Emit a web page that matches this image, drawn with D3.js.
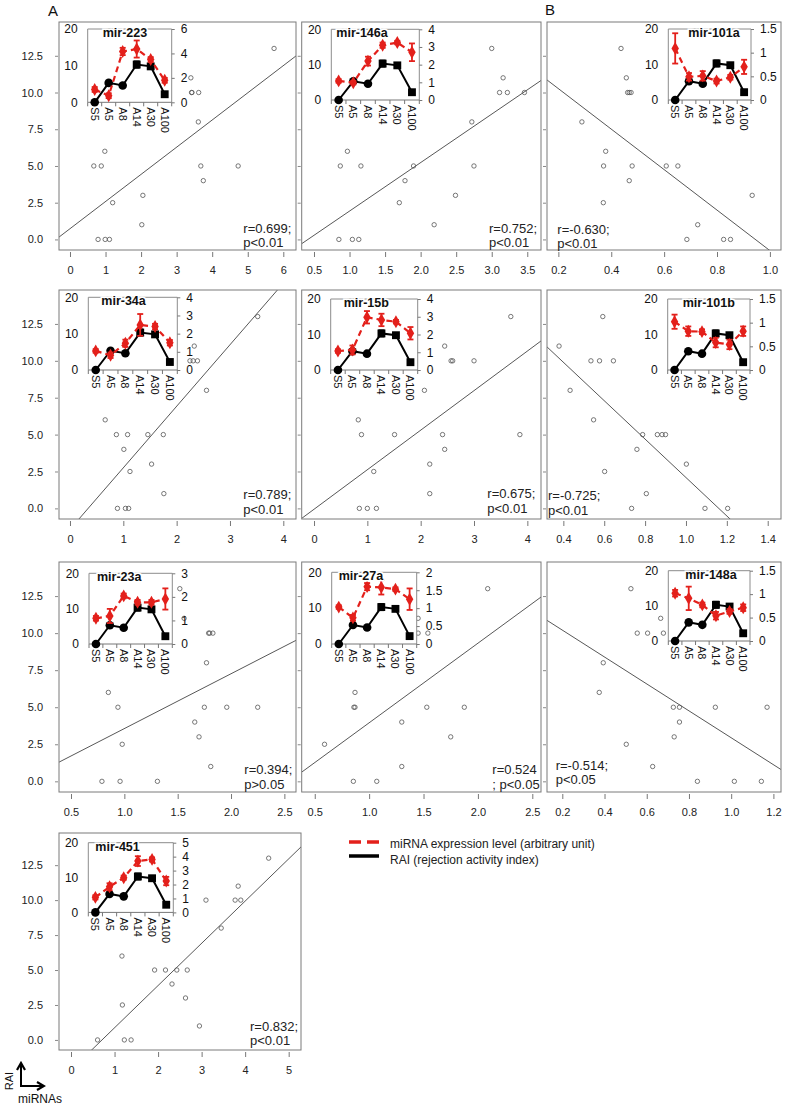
<!DOCTYPE html>
<html><head><meta charset="utf-8">
<script src="https://cdn.jsdelivr.net/npm/d3@7"></script>
<style>body{margin:0;background:#fff} svg{display:block} text{font-family:Arial,"Liberation Sans",sans-serif}</style>
</head><body><svg id="c" width="787" height="1107"></svg>
<script>
// ---------------- DATA ----------------
const categories = ["S5","A5","A8","A14","A30","A100"];
const raiMean = [0, 5.3, 4.6, 10.3, 9.8, 2.2];
const raiErr  = [0, 0.4, 0.4, 0.9, 0.5, 0.5];
const raiTicks = [0, 10, 20];
const sampleRAI = [13, 11, 10, 10, 10, 8, 6, 5, 5, 5, 5, 4, 3, 2.5, 1, 0, 0, 0];
const yTicks = [0, 2.5, 5, 7.5, 10, 12.5];

const mirNames = ["mir-223","mir-146a","mir-101a","mir-34a","mir-15b","mir-101b","mir-23a","mir-27a","mir-148a","mir-451"];

// miRNA value for each sample (same order as sampleRAI; null = not visible)
const x223  = [5.74,3.40,3.42,3.62,3.43,3.61,0.98,0.67,0.88,3.68,4.73,3.75,2.05,1.20,2.02,0.79,0.99,1.11];
const x146a = [3.00,3.16,3.11,3.22,3.46,2.72,0.97,0.87,1.16,1.90,2.75,1.78,2.49,1.70,2.19,0.85,1.04,1.13];
const x101a = [0.437,0.457,0.462,0.468,0.475,0.289,0.379,0.371,0.479,0.608,0.652,0.468,0.933,0.370,0.727,0.686,0.825,0.851];
const x34a  = [3.52,2.33,2.25,2.31,2.39,2.56,0.66,0.87,1.08,1.46,1.75,1.01,1.53,1.125,1.76,0.89,1.04,1.10];
const x15b  = [3.69,2.45,2.57,2.60,3.00,2.07,0.83,0.89,1.51,2.41,3.86,2.45,2.17,1.12,2.17,0.85,1.00,1.17];
const x101b = [0.593,0.379,0.535,0.577,0.645,0.433,0.548,0.788,0.860,0.883,0.900,0.760,1.002,0.602,0.806,0.734,1.093,1.204];
const x23a  = [1.52,1.56,1.79,1.83,1.80,1.77,0.85,0.94,1.75,1.96,2.25,1.66,1.70,0.98,1.81,0.79,0.96,1.31];
const x27a  = [2.09,1.45,1.45,1.54,null,null,0.87,0.86,0.87,1.53,1.875,1.30,1.75,0.59,1.30,0.855,1.07,null];
const x148a = [0.525,0.666,0.555,0.604,0.679,0.394,0.375,0.726,0.755,0.925,1.17,0.755,0.73,0.503,0.628,0.84,1.015,1.143];
const x451  = [4.54,3.84,3.10,3.77,3.90,3.45,1.17,1.92,2.17,2.43,2.67,2.32,2.63,1.18,2.95,0.61,1.225,1.38];

// regression lines [intercept, slope]
const fitLines = [[0.73,1.85],[-1.37,3.30],[13.02,-13.78],[-1.42,4.17],[-0.06,2.68],[15.11,-13.02],[-0.14,3.70],[-1.42,5.37],[12.02,-9.08],[-2.15,3.02]];
const rTexts = ["r=0.699;","r=0.752;","r=-0.630;","r=0.789;","r=0.675;","r=-0.725;","r=0.394;","r=0.524","r=-0.514;","r=0.832;"];
const pTexts = ["p<0.01","p<0.01","p<0.01","p<0.01","p<0.01","p<0.01","p>0.05","; p<0.05","p<0.05","p<0.01"];

// inset miRNA expression (arbitrary unit) mean and error per category
const e223  = [1.05,0.54,4.16,4.36,3.50,1.80], s223  = [0.2,0.2,0.3,0.7,0.2,0.2];
const e146a = [1.08,0.98,2.20,3.10,3.25,2.70], s146a = [0.1,0.1,0.25,0.15,0.1,0.5];
const e101a = [1.09,0.49,0.51,0.40,0.48,0.70], s101a = [0.32,0.08,0.1,0.05,0.05,0.15];
const e34a  = [1.05,0.81,1.47,2.48,2.39,1.50], s34a  = [0.1,0.15,0.2,0.6,0.15,0.15];
const e15b  = [1.07,1.13,2.97,2.82,2.72,2.07], s15b  = [0.1,0.25,0.35,0.35,0.1,0.35];
const e101b = [1.02,0.82,0.81,0.58,0.54,0.82], s101b = [0.15,0.1,0.05,0.1,0.1,0.1];
const e23a  = [1.09,1.19,2.04,1.77,1.77,1.91], s23a  = [0.1,0.3,0.1,0.1,0.1,0.45];
const e27a  = [1.03,0.73,1.60,1.58,1.53,1.25], s27a  = [0.05,0.08,0.1,0.2,0.05,0.3];
const e148a = [1.02,0.91,0.77,0.54,0.63,0.71], s148a = [0.07,0.25,0.05,0.08,0.05,0.07];
const e451  = [1.08,1.84,2.49,3.68,3.80,2.25], s451  = [0.15,0.25,0.15,0.35,0.15,0.3];

// axis ticks
const xTicks = [[0,1,2,3,4,5,6],[0.5,1,1.5,2,2.5,3,3.5],[0.2,0.4,0.6,0.8,1.0],[0,1,2,3,4],[0,1,2,3,4],[0.4,0.6,0.8,1.0,1.2,1.4],[0.5,1,1.5,2,2.5],[0.5,1,1.5,2,2.5],[0.2,0.4,0.6,0.8,1.0,1.2],[0,1,2,3,4,5]];
const rightTicks = [[0,2,4,6],[0,1,2,3,4],[0,0.5,1,1.5],[0,1,2,3,4],[0,1,2,3,4],[0,0.5,1,1.5],[0,1,2,3],[0,0.5,1,1.5,2],[0,0.5,1,1.5],[0,1,2,3,4,5]];
const rightMax = [6,4,1.5,4,4,1.5,3,2,1.5,5];
const xDomains = [[-0.309,6.357],[0.327,3.693],[0.157,1.042],[-0.206,4.238],[-0.231,4.256],[0.320,1.465],[0.3875,2.609],[0.380,2.580],[0.1275,1.236],[-0.276,5.283]];
const yDomain = [-0.72, 14.8];

// ---------------- LAYOUT ----------------
const boxes = [[59,22,296,250],[301.7,22,541,250],[547,22,781,250],[59,290,296,519],[301.7,290,541,519],[547,290,781,519],[59,562,296,792],[301.7,562,541,792],[547,562,781,792],[59,833,301,1050]];
const insets = [[87.7,29,84,73.3],[331.3,29.3,88,70.7],[668.3,29,82.7,71],[88.3,297.3,89,72.7],[330.7,299,87,71],[667.7,299,82.3,71],[89,573.3,83.3,70.7],[331.7,572.3,85,71.7],[668.3,570.7,81.7,70.3],[88.3,842.7,85,69.7]];
const titleDx = [15,5,20,13,13,15,8,7,17,7];
const statPos = [[243.3,233,247],[489,233,246.5],[557.3,233.5,247.5],[243.3,499,513.5],[487.3,498,512.5],[548,500,514.5],[244.3,774,788.5],[492.3,774,788.5],[555.7,769.5,784],[250,1030.5,1045]];
const intFmt = [true,false,false,true,true,false,false,false,false,true];

const xs = [x223,x146a,x101a,x34a,x15b,x101b,x23a,x27a,x148a,x451];
const es = [e223,e146a,e101a,e34a,e15b,e101b,e23a,e27a,e148a,e451];
const ss = [s223,s146a,s101a,s34a,s15b,s101b,s23a,s27a,s148a,s451];

const RED = "#e3201b";
const svg = d3.select("#c");
const FONT = "Arial, 'Liberation Sans', sans-serif";

mirNames.forEach((name, i) => {
  const [L,T,R,B] = boxes[i];
  const col = i === 9 ? 0 : i % 3;
  const x = d3.scaleLinear().domain(xDomains[i]).range([L,R]);
  const y = d3.scaleLinear().domain(yDomain).range([B,T]);
  const g = svg.append("g");
  const cid = "clip" + i;
  svg.append("clipPath").attr("id", cid).append("rect")
    .attr("x", L).attr("y", T).attr("width", R-L).attr("height", B-T);
  const pg = g.append("g").attr("clip-path", `url(#${cid})`);

  const [a,b] = fitLines[i];
  const [d0,d1] = xDomains[i];
  pg.append("line")
    .attr("x1", x(d0)).attr("y1", y(a + b*d0))
    .attr("x2", x(d1)).attr("y2", y(a + b*d1))
    .attr("stroke", "#444").attr("stroke-width", 0.9);

  const pts = xs[i].map((v,k) => [v, sampleRAI[k]]).filter(d => d[0] != null);
  pg.selectAll("circle.pt").data(pts).join("circle").attr("class","pt")
    .attr("cx", d => x(d[0])).attr("cy", d => y(d[1])).attr("r", 2.2)
    .attr("fill", "none").attr("stroke", "#555").attr("stroke-width", 0.8);

  // x axis
  const ax = d3.axisBottom(x).tickValues(xTicks[i])
    .tickFormat(intFmt[i] ? d3.format("d") : d3.format(".1f")).tickSize(5).tickPadding(9);
  g.append("g").attr("transform", `translate(0,${B+2})`).call(ax)
    .attr("font-family", FONT).attr("font-size", 11)
    .call(s => { s.select(".domain").remove(); s.selectAll("line").attr("stroke","#777"); s.selectAll("text").attr("fill","#222"); });

  // y axis
  const ay = d3.axisLeft(y).tickValues(yTicks)
    .tickFormat(col === 0 ? d3.format(".1f") : () => "").tickSize(3).tickPadding(12);
  g.append("g").attr("transform", `translate(${L-1},0)`).call(ay)
    .attr("font-family", FONT).attr("font-size", 11)
    .call(s => { s.select(".domain").remove(); s.selectAll("line").attr("stroke","#888"); s.selectAll("text").attr("fill","#222"); });

  // box
  g.append("rect").attr("x", L).attr("y", T).attr("width", R-L).attr("height", B-T)
    .attr("fill", "none").attr("stroke", "#7a7a7a").attr("stroke-width", 1);

  // ---- inset ----
  const [iL,iT,iW,iH] = insets[i];
  const iR = iL + iW, iB = iT + iH;
  const xb = d3.scaleBand().domain(categories).range([iL,iR]);
  const cx = c => xb(c) + xb.bandwidth()/2;
  const yl = d3.scaleLinear().domain([0,20]).range([iB,iT]);
  const yr = d3.scaleLinear().domain([0,rightMax[i]]).range([iB,iT]);
  const ig = g.append("g");
  ig.append("rect").attr("x", iL).attr("y", iT).attr("width", iW).attr("height", iH).attr("fill", "#fff");
  ig.append("path").attr("d", `M${iL},${iB}V${iT}H${iR}V${iB}`).attr("fill","none").attr("stroke","#8c8c8c").attr("stroke-width",1);
  ig.append("line").attr("x1", iL).attr("x2", iR).attr("y1", iB).attr("y2", iB).attr("stroke","#777");
  ig.selectAll("line.ct").data(categories.map(c => xb(c)).concat([iR])).join("line").attr("class","ct")
    .attr("x1", d => d).attr("x2", d => d).attr("y1", iB).attr("y2", iB+4).attr("stroke","#777");

  const al = d3.axisLeft(yl).tickValues(raiTicks).tickSize(0).tickPadding(10);
  ig.append("g").attr("transform", `translate(${iL},0)`).call(al)
    .attr("font-family", FONT).attr("font-size", 12)
    .call(s => { s.select(".domain").remove(); s.selectAll("text").attr("fill","#111"); });
  const ar = d3.axisRight(yr).tickValues(rightTicks[i]).tickFormat(d => String(d)).tickSize(3).tickPadding(6);
  ig.append("g").attr("transform", `translate(${iR},0)`).call(ar)
    .attr("font-family", FONT).attr("font-size", 12)
    .call(s => { s.select(".domain").remove(); s.selectAll("line").attr("stroke","#777"); s.selectAll("text").attr("fill","#111"); });

  ig.selectAll("text.cat").data(categories).join("text").attr("class","cat")
    .attr("transform", c => `translate(${cx(c)},${iB+5}) rotate(90)`)
    .attr("dominant-baseline","central").attr("text-anchor","start")
    .attr("font-size", 11).attr("fill","#111").text(c => c);

  // RAI series (black)
  const raiPts = categories.map((c,k) => ({c, m: raiMean[k], e: raiErr[k], k}));
  ig.append("path").datum(raiPts)
    .attr("d", d3.line().x(d => cx(d.c)).y(d => yl(d.m)))
    .attr("fill","none").attr("stroke","#000").attr("stroke-width",2);
  const be = ig.selectAll("g.be").data(raiPts.filter(d => d.e > 0)).join("g").attr("class","be").attr("stroke","#000").attr("stroke-width",1.6);
  be.append("line").attr("x1", d => cx(d.c)).attr("x2", d => cx(d.c)).attr("y1", d => yl(d.m-d.e)).attr("y2", d => yl(d.m+d.e));
  be.append("line").attr("x1", d => cx(d.c)-3).attr("x2", d => cx(d.c)+3).attr("y1", d => yl(d.m+d.e)).attr("y2", d => yl(d.m+d.e));
  be.append("line").attr("x1", d => cx(d.c)-3).attr("x2", d => cx(d.c)+3).attr("y1", d => yl(d.m-d.e)).attr("y2", d => yl(d.m-d.e));
  ig.selectAll("path.bm").data(raiPts).join("path").attr("class","bm")
    .attr("transform", d => `translate(${cx(d.c)},${yl(d.m)})`)
    .attr("d", d => d3.symbol().type(d.k < 3 ? d3.symbolCircle : d3.symbolSquare).size(d.k < 3 ? 58 : 62)())
    .attr("fill","#000");

  // miRNA series (red)
  const ePts = categories.map((c,k) => ({c, m: es[i][k], e: ss[i][k]}));
  ig.append("path").datum(ePts)
    .attr("d", d3.line().x(d => cx(d.c)).y(d => yr(d.m)))
    .attr("fill","none").attr("stroke",RED).attr("stroke-width",2.2).attr("stroke-dasharray","6,4");
  const re = ig.selectAll("g.re").data(ePts).join("g").attr("class","re").attr("stroke",RED).attr("stroke-width",1.8);
  re.append("line").attr("x1", d => cx(d.c)).attr("x2", d => cx(d.c)).attr("y1", d => yr(d.m-d.e)).attr("y2", d => yr(d.m+d.e));
  re.append("line").attr("x1", d => cx(d.c)-3).attr("x2", d => cx(d.c)+3).attr("y1", d => yr(d.m+d.e)).attr("y2", d => yr(d.m+d.e));
  re.append("line").attr("x1", d => cx(d.c)-3).attr("x2", d => cx(d.c)+3).attr("y1", d => yr(d.m-d.e)).attr("y2", d => yr(d.m-d.e));
  ig.selectAll("path.rm").data(ePts).join("path").attr("class","rm")
    .attr("transform", d => `translate(${cx(d.c)},${yr(d.m)})`)
    .attr("d", d3.symbol().type(d3.symbolDiamond).size(48)())
    .attr("fill",RED);

  // title
  ig.append("text").attr("x", iL + titleDx[i]).attr("y", iT + 8)
    .attr("font-size", 12.5).attr("font-weight","bold").attr("fill","#111")
    .attr("stroke","#fff").attr("stroke-width",3).attr("paint-order","stroke")
    .text(name);

  // stats
  const [sx, sy1, sy2] = statPos[i];
  g.append("text").attr("x", sx).attr("y", sy1).attr("font-size", 13).attr("fill","#222").text(rTexts[i]);
  g.append("text").attr("x", sx).attr("y", sy2).attr("font-size", 13).attr("fill","#222").text(pTexts[i]);
});

// panel letters
svg.append("text").attr("x", 48).attr("y", 16).attr("font-size", 15).attr("fill","#111").text("A");
svg.append("text").attr("x", 545).attr("y", 15).attr("font-size", 15).attr("fill","#111").text("B");

// legend
const lg = svg.append("g");
lg.append("line").attr("x1",349).attr("x2",379).attr("y1",842).attr("y2",842)
  .attr("stroke",RED).attr("stroke-width",3.5).attr("stroke-dasharray","12,6");
lg.append("line").attr("x1",349).attr("x2",379).attr("y1",856).attr("y2",856)
  .attr("stroke","#000").attr("stroke-width",3.5);
lg.append("text").attr("x",390).attr("y",848).attr("font-size",12).attr("fill","#222").text("miRNA expression level (arbitrary unit)");
lg.append("text").attr("x",390).attr("y",864).attr("font-size",12).attr("fill","#222").text("RAI (rejection activity index)");

// orientation arrows
const defs = svg.append("defs");
defs.append("marker").attr("id","ah").attr("viewBox","0 0 10 10").attr("refX",6).attr("refY",5)
  .attr("markerWidth",5).attr("markerHeight",5).attr("orient","auto")
  .append("path").attr("d","M1,1L8,5L1,9").attr("fill","none").attr("stroke","#000").attr("stroke-width",2.2);
svg.append("line").attr("x1",21).attr("y1",1087).attr("x2",21).attr("y2",1065)
  .attr("stroke","#000").attr("stroke-width",2).attr("marker-end","url(#ah)");
svg.append("line").attr("x1",21).attr("y1",1086).attr("x2",42).attr("y2",1086)
  .attr("stroke","#000").attr("stroke-width",2).attr("marker-end","url(#ah)");
svg.append("text").attr("transform","translate(12.5,1081) rotate(-90)").attr("text-anchor","middle")
  .attr("font-size",11).attr("fill","#111").text("RAI");
svg.append("text").attr("x",18).attr("y",1103).attr("font-size",12).attr("fill","#111").text("miRNAs");
</script></body></html>
